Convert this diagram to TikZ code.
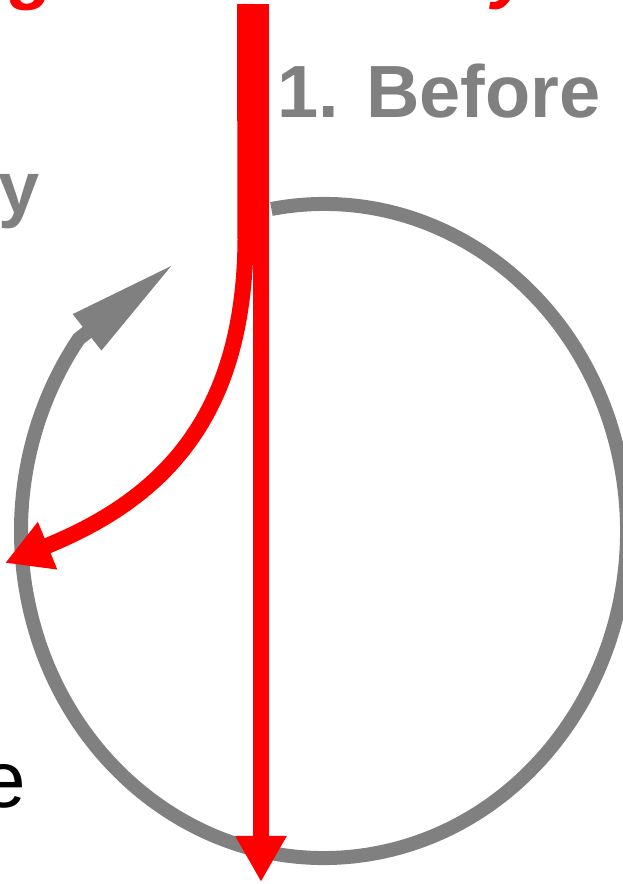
\documentclass[tikz,border=0pt]{standalone}
\usepackage{fontspec}
\setmainfont{Liberation Sans}
\usetikzlibrary{arrows.meta}

\begin{document}
\begin{tikzpicture}[
    x=1pt, y=1pt,
    loopline/.style={draw=gray, line width=14pt},
    mainline/.style={draw=red, line width=16pt, -{Triangle[length=46pt, width=48pt]}},
    turnline/.style={draw=red, line width=16pt, -{Triangle[length=46pt, width=48pt]}},
    tag/.style={inner sep=0pt, font=\fontsize{74}{80}\selectfont\bfseries, text=gray},
    head/.style={inner sep=0pt, anchor=base west, font=\fontsize{74}{80}\selectfont\bfseries\itshape, text=red}
  ]
  \useasboundingbox (0,0) rectangle (623,884);
  \clip (0,0) rectangle (623,884);
  % red heading, only the descenders reach into the frame
  \node[head] (headg) at (10,888) {g};
  \node[head] (heady) at (492,889) {y};
  \node[tag, anchor=base west] (before) at (277,766) {1. Before};
  \node[tag, anchor=base east] (ylab) at (40,670) {y};
  \node[anchor=base west, inner sep=0pt, font=\fontsize{80}{88}\selectfont] (elab) at (-19,76) {e};

  % grey cycle
  \coordinate (ctr) at (324,353);
  \coordinate (ring) at ([shift={(100:303 and 327)}]ctr);
  \coordinate (ringtip) at (175,621);
  \draw[loopline, -{Triangle[length=112pt, width=42pt]}] (ring) arc[start angle=100, end angle=-216, x radius=303, y radius=327] -- (ringtip);

  % red arrows
  \coordinate (src) at (261,880);
  \coordinate (sink) at (261,2);
  \draw[mainline] (src) -- (sink);
  \coordinate (src2) at (245,880);
  \coordinate (knee) at (245.5,644);
  \coordinate (exit) at (5,321);
  \draw[turnline] (src2) -- (knee) .. controls (244,464) and (160,384) .. (exit);
\end{tikzpicture}
\end{document}
